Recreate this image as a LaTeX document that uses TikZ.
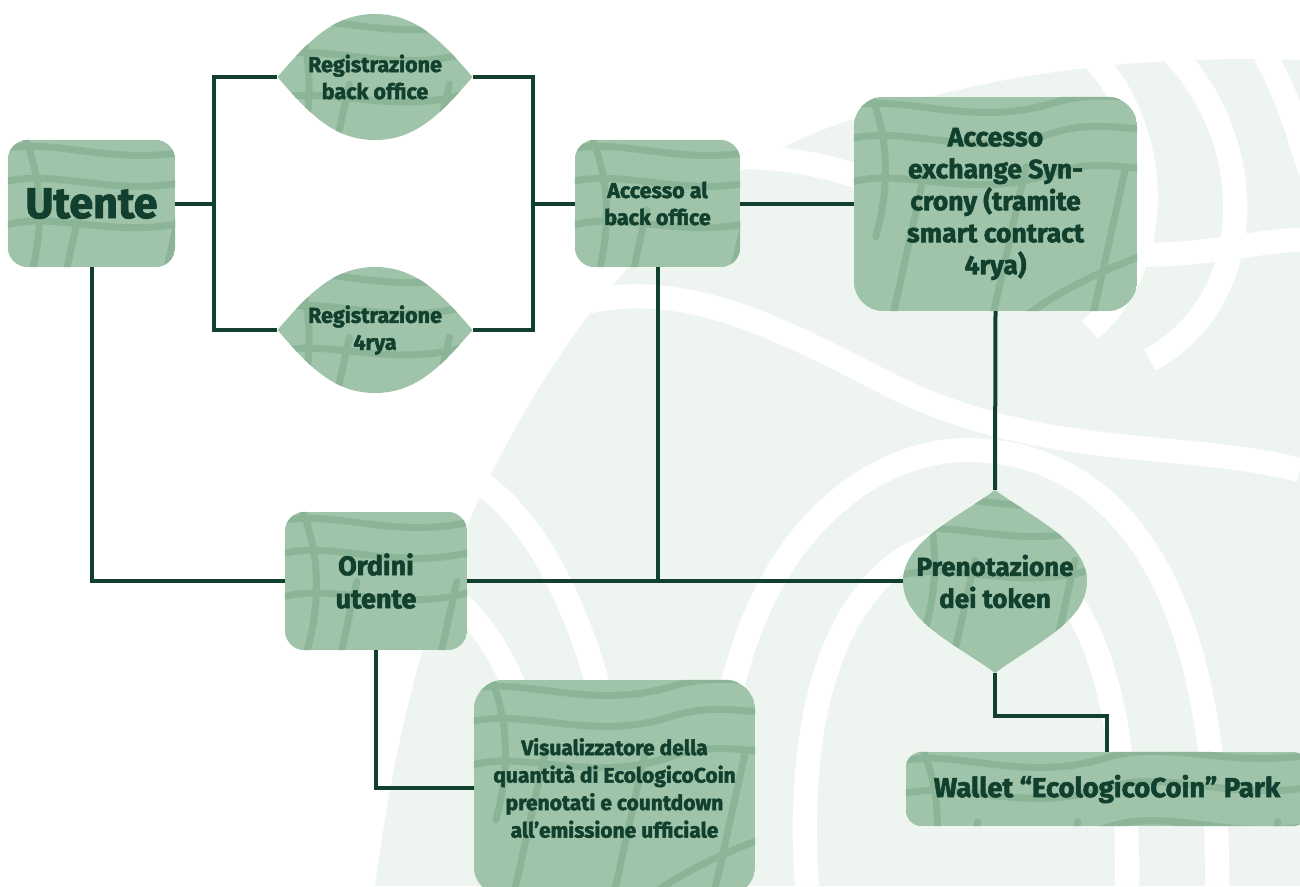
\documentclass[tikz,border=0pt]{standalone}
\usepackage{fontspec}
\setmainfont{Fira Sans}[BoldFeatures={FakeBold=2}]
\usetikzlibrary{calc}
\definecolor{nfill}{RGB}{160,196,170}
\definecolor{ntex}{RGB}{139,181,150}
\definecolor{dk}{RGB}{17,64,47}
\definecolor{bgl}{RGB}{238,245,240}
\pgfdeclarelayer{bgpat}
\pgfdeclarelayer{shapes}
\pgfsetlayers{bgpat,shapes,main}
\newcommand{\texlines}{%
  \draw[texl] (-20,14) .. controls (40,-10) and (110,34) .. (200,6) .. controls (270,-15) and (330,24) .. (440,-4);
  \draw[texl] (-20,48) .. controls (40,20) and (110,66) .. (200,36) .. controls (270,14) and (330,58) .. (440,28);
  \draw[texl] (-20,92) .. controls (40,62) and (110,108) .. (200,76) .. controls (270,52) and (330,98) .. (440,66);
  \draw[texl] (14,-10) .. controls (36,40) and (36,90) .. (22,140);
  \draw[texl] (30,260) -- (72,70);
  \draw[texl] (130,260) -- (172,70);
  \draw[texl] (230,260) -- (272,70);
  \draw[texl] (330,260) -- (372,70);
  \draw[texl] (90,300) .. controls (180,180) and (300,150) .. (460,110);
}
\newcommand{\tbox}[2]{%
  \begin{scope}
    \clip[rounded corners=#2] (#1.north west) rectangle (#1.south east);
    \fill[nfill] (#1.north west) rectangle (#1.south east);
    \begin{scope}[shift={(#1.north west)}]\texlines\end{scope}
  \end{scope}}
\tikzset{
  texl/.style={draw=ntex, line width=7pt, line cap=round},
  conn/.style={draw=dk, line width=4pt, line join=miter},
  lbl/.style={inner sep=0pt, text=dk, align=center},
  bgw/.style={draw=white, line width=24pt},
}
\begin{document}
\begin{tikzpicture}[x=1pt,y=-1pt]
\useasboundingbox (0,0) rectangle (1300,886);
% nodes (text)
\node[lbl, minimum width=167pt, minimum height=127pt, font=\bfseries\fontsize{43}{46}\selectfont] (ut) at (91.5,203.5) {Utente};
\node[lbl, minimum width=195pt, minimum height=126pt, font=\bfseries\fontsize{21.5}{27}\selectfont] (reg1) at (375,77) {Registrazione\\back office};
\node[lbl, minimum width=195pt, minimum height=126pt, font=\bfseries\fontsize{21.5}{27}\selectfont] (reg2) at (375,330) {Registrazione\\4rya};
\node[lbl, minimum width=165pt, minimum height=127pt, font=\bfseries\fontsize{21.5}{27}\selectfont] (acc) at (657.5,203.5) {Accesso al\\back office};
\node[lbl, minimum width=283pt, minimum height=214pt, font=\bfseries\fontsize{26.5}{32}\selectfont] (exch) at (995.5,204) {Accesso\\exchange Syn-\\crony (tramite\\smart contract\\4rya)};
\node[lbl, minimum width=182pt, minimum height=138pt, font=\bfseries\fontsize{27}{33}\selectfont] (ord) at (376,581) {Ordini\\utente};
\node[lbl, minimum width=184pt, minimum height=183pt, font=\bfseries\fontsize{26}{32}\selectfont] (pren) at (995,581.5) {Prenotazione\\dei token};
\node[lbl, minimum width=402pt, minimum height=74pt, font=\bfseries\fontsize{27.5}{30}\selectfont] (wal) at (1107,789) {Wallet “EcologicoCoin” Park};
\node[lbl, minimum width=281pt, minimum height=216pt, font=\bfseries\fontsize{21}{27.5}\selectfont] (vis) at (614.5,788) {Visualizzatore della\\quantità di EcologicoCoin\\prenotati e countdown\\all’emissione ufficiale};
% background pattern
\begin{pgfonlayer}{bgpat}
\fill[white] (0,0) rectangle (1300,886);
\fill[bgl] (375,886) .. controls (400,700) and (440,560) .. (520,420) .. controls (600,280) and (700,170) .. (850,120) .. controls (1000,70) and (1150,55) .. (1300,60) -- (1300,886) -- cycle;
\draw[bgw] (520,330) .. controls (650,250) and (780,330) .. (900,390) .. controls (1050,460) and (1180,440) .. (1300,470);
\draw[bgw] (700,160) .. controls (850,140) and (950,230) .. (1080,250) .. controls (1180,265) and (1250,240) .. (1300,240);
\draw[bgw] (1085,50) .. controls (1160,120) and (1170,260) .. (1090,330);
\draw[bgw] (1170,50) .. controls (1260,140) and (1260,300) .. (1150,360);
\draw[bgw] (1265,55) .. controls (1290,100) and (1300,140) .. (1310,170);
\draw[bgw] (717,886) .. controls (700,560) and (860,450) .. (967,450) .. controls (1100,450) and (1220,560) .. (1217,886);
\draw[bgw] (807,886) .. controls (790,640) and (880,540) .. (967,540) .. controls (1060,540) and (1130,640) .. (1127,886);
\draw[bgw] (460,470) .. controls (560,520) and (620,700) .. (630,886);
\draw[bgw] (440,590) .. controls (510,630) and (550,760) .. (555,886);
\end{pgfonlayer}
% shapes
\begin{pgfonlayer}{shapes}
\tbox{ut}{20pt}
\tbox{acc}{20pt}
\tbox{exch}{30pt}
\tbox{ord}{20pt}
\tbox{wal}{16pt}
\tbox{vis}{30pt}
\begin{scope}[shift={(reg1.center)}]
  \path[clip] (-97.5,0) .. controls (-65,-38) and (-40,-63) .. (0,-63) .. controls (40,-63) and (65,-38) .. (97.5,0)
     .. controls (65,38) and (40,63) .. (0,63) .. controls (-40,63) and (-65,38) .. (-97.5,0) -- cycle;
  \fill[nfill] (-100,-65) rectangle (100,65);
  \begin{scope}[shift={(-97.5,-63)}]\texlines\end{scope}
\end{scope}
\begin{scope}[shift={(reg2.center)}]
  \path[clip] (-97.5,0) .. controls (-65,-38) and (-40,-63) .. (0,-63) .. controls (40,-63) and (65,-38) .. (97.5,0)
     .. controls (65,38) and (40,63) .. (0,63) .. controls (-40,63) and (-65,38) .. (-97.5,0) -- cycle;
  \fill[nfill] (-100,-65) rectangle (100,65);
  \begin{scope}[shift={(-97.5,-63)}]\texlines\end{scope}
\end{scope}
\begin{scope}[shift={(pren.center)}]
  \path[clip] (0,-91.5) .. controls (-40,-62) and (-92,-40) .. (-92,0) .. controls (-92,40) and (-40,62) .. (0,91.5)
     .. controls (40,62) and (92,40) .. (92,0) .. controls (92,-40) and (40,-62) .. (0,-91.5) -- cycle;
  \fill[nfill] (-95,-95) rectangle (95,95);
  \begin{scope}[shift={(-92,-91.5)}]\texlines\end{scope}
\end{scope}
\end{pgfonlayer}
% junctions
\coordinate (jL) at (214,203.5);
\coordinate (jR) at (533,203.5);
% connectors
\draw[conn] (ut.east) -- (jL);
\draw[conn] (reg1.west) -| (jL) |- (reg2.west);
\draw[conn] (reg1.east) -| (jR) |- (reg2.east);
\draw[conn] (jR) -- (acc.west);
\draw[conn] (acc.east) -- (acc.east -| exch.west);
\draw[conn] (exch.south) -- (pren.north);
\draw[conn] (ut.south) |- (ord.west);
\draw[conn] (ord.east) -- (ord.east -| pren.west);
\draw[conn] (acc.south) -- (acc.south |- ord.east);
\draw[conn] (ord.south) |- (vis.west);
\draw[conn] (pren.south) -- ++(0,43) -| (wal.north);
\end{tikzpicture}
\end{document}
